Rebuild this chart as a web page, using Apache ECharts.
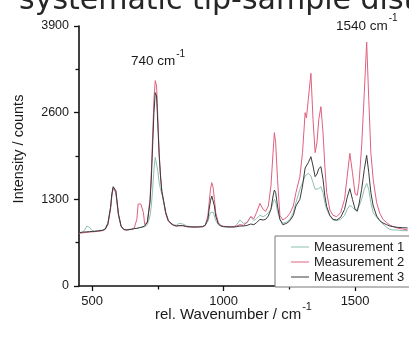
<!DOCTYPE html>
<html>
<head>
<meta charset="utf-8">
<script src="https://cdn.jsdelivr.net/npm/echarts@6/dist/echarts.min.js"></script>
<style>
html,body{margin:0;padding:0;background:#fff;}
#chart{width:409px;height:339px;}
</style>
</head>
<body>
<div id="chart"></div>
<script>
// Wavenumber positions (cm^-1)
var wavenumbers = [
  450,460,470,480,490,500,510,520,530,540,550,560,
  570,575,580,585,590,595,600,
  610,620,630,640,650,660,670,
  675,680,685,690,695,700,
  710,720,725,730,735,740,745,750,755,760,765,770,
  780,790,800,810,820,830,837,845,860,880,900,920,930,
  940,945,950,955,960,965,970,980,990,1000,
  1020,1040,1050,1062,1075,1090,1103,1115,1125,1138,1150,1160,1170,1180,
  1188,1193,1198,1205,1214,1225,1240,1252,1265,1275,
  1290,1300,1310,1315,1322,1332,1340,1348,1355,1362,1370,1378,1385,1392,
  1404,1416,1430,1445,1460,1470,1480,1490,1500,1508,1515,1525,1535,1544,1552,1560,1569,
  1582,1594,1606,1620,1632,1645,1660,1680,1700
];
var measurement1 = [
  800,805,830,900,880,830,825,830,835,840,860,950,
  1180,1380,1480,1500,1420,1250,1080,
  900,850,845,850,855,860,865,
  870,875,880,880,885,890,
  920,1050,1200,1450,1750,1930,1900,1720,1550,1450,1380,1300,
  1100,980,940,920,910,940,965,930,900,890,890,895,910,
  970,1040,1100,1130,1110,1050,980,920,900,890,
  885,890,920,990,940,950,1040,980,1010,1060,1040,1060,1100,1150,
  1250,1300,1260,1120,1000,940,960,1000,1100,1250,
  1450,1550,1650,1670,1690,1650,1550,1450,1440,1460,1490,1400,1250,1150,
  1050,990,980,1000,1060,1150,1210,1180,1140,1150,1200,1300,1450,1540,1450,1250,1100,
  1030,980,930,880,850,840,840,830,830
];
var measurement2 = [
  790,795,800,805,810,812,815,820,825,830,850,920,
  1150,1350,1470,1490,1400,1230,1060,
  890,845,840,845,850,870,1000,
  1230,1250,1230,1250,1100,920,
  960,1300,1700,2250,2800,3080,3000,2500,2000,1650,1420,1300,
  1080,970,930,910,900,905,910,905,890,885,885,890,910,
  1050,1250,1450,1550,1480,1300,1100,950,905,895,
  890,890,900,920,910,960,1040,1010,1100,1240,1150,1120,1200,1500,
  2000,2300,2150,1600,1060,990,1030,1090,1200,1400,
  1640,2000,2600,2520,2800,3190,2500,2000,2150,2500,2690,2300,1800,1400,
  1140,1060,1040,1100,1300,1650,1990,1700,1380,1360,1550,2100,2900,3660,2800,2000,1590,
  1250,1090,1000,950,915,890,870,855,840
];
var measurement3 = [
  800,805,810,812,815,818,820,825,830,835,855,940,
  1180,1380,1490,1510,1430,1260,1080,
  900,850,840,845,850,860,865,
  870,875,880,885,890,900,
  960,1250,1600,2100,2600,2900,2850,2400,1950,1650,1420,1320,
  1100,980,940,910,900,905,910,905,890,885,885,890,910,
  1000,1150,1280,1350,1320,1200,1050,930,900,890,
  885,885,890,900,900,910,930,920,950,1000,990,1000,1050,1150,
  1350,1440,1400,1200,1000,920,940,980,1060,1200,
  1300,1500,1770,1780,1850,1940,1800,1640,1680,1760,1790,1600,1350,1190,
  1060,1000,990,1030,1150,1330,1460,1300,1150,1120,1230,1450,1750,1960,1700,1400,1200,
  1050,980,945,920,900,890,880,875,870
];
var seriesNames = ['Measurement 1','Measurement 2','Measurement 3'];
var xMajorTicks = [500,1000,1500];
var xMinorTicks = [750,1250];
var yTicks = [0,1300,2600,3900];
var titleText = 'systematic tip-sample distance';
var peakLabels = [{main:'740 cm', sup:'-1'}, {main:'1540 cm', sup:'-1'}];
var xAxisTitle = {main:'rel. Wavenumber / cm', sup:'-1'};
var yAxisTitle = 'Intensity / counts';

function zip(xs, ys){ return xs.map(function(x,i){ return [x, ys[i]]; }); }

var FONT = '"Liberation Sans", Arial, sans-serif';
var ctx = document.createElement('canvas').getContext('2d');
function tw(text, size, fam){ ctx.font = size + 'px ' + (fam || FONT); return ctx.measureText(text).width; }

function supText(main, sup, left, baseline, size, supSize, supRise){
  var w = tw(main, size);
  return [
    {type:'text', x:left, y:baseline - 0.35*size, style:{text:main, font: size+'px '+FONT, fill:'#1a1a1a', verticalAlign:'middle', align:'left'}},
    {type:'text', x:left + w + 1, y:baseline - supRise, style:{text:sup, font: supSize+'px '+FONT, fill:'#1a1a1a', verticalAlign:'middle', align:'left'}}
  ];
}

var colors = ['#8fbfb2','#e0607f','#3b3b3b'];
var chart = echarts.init(document.getElementById('chart'), null, {renderer:'canvas'});

var graphics = [
  {type:'text', x:19, y:12 - 0.35*30, style:{text:titleText, font:'30px "DejaVu Sans", sans-serif', fill:'#262626', verticalAlign:'middle', align:'left'}},
  {type:'text', x:19, y:149, rotation:Math.PI/2, style:{text:yAxisTitle, font:'14.5px '+FONT, fill:'#1a1a1a', verticalAlign:'middle', align:'center'}}
];
graphics = graphics
  .concat(supText(peakLabels[0].main, peakLabels[0].sup, 131, 66.5, 13.5, 10, 12))
  .concat(supText(peakLabels[1].main, peakLabels[1].sup, 336, 31, 13.5, 10, 13))
  .concat(supText(xAxisTitle.main, xAxisTitle.sup, 155, 320, 15, 11, 13.5));

var option = {
  animation:false,
  backgroundColor:'#fff',
  textStyle:{fontFamily:FONT},
  color:colors,
  grid:{left:79, right:0, top:26, bottom:53, containLabel:false},
  legend:{
    data:seriesNames, orient:'vertical', left:275, top:236,
    padding:[4,20,3,16], itemGap:1, itemWidth:18, itemHeight:1, icon:'rect',
    borderColor:'#777', borderWidth:1, backgroundColor:'#fff',
    textStyle:{fontSize:13, color:'#1a1a1a', lineHeight:14, fontFamily:FONT}
  },
  xAxis:[{
    type:'value', min:450, max:1705,
    axisLine:{show:true, lineStyle:{color:'#111', width:1.6}},
    axisTick:{show:true, length:5, customValues:xMajorTicks, lineStyle:{color:'#111', width:1.3}},
    axisLabel:{customValues:xMajorTicks, fontSize:13, color:'#1a1a1a', margin:9, fontFamily:FONT,
      formatter:function(v){ return String(v); }},
    splitLine:{show:false}
  },{
    type:'value', min:450, max:1705, position:'bottom',
    axisLine:{show:false},
    axisTick:{show:true, length:3.5, customValues:xMinorTicks, lineStyle:{color:'#111', width:1.3}},
    axisLabel:{show:false},
    splitLine:{show:false}
  }],
  yAxis:{
    type:'value', min:yTicks[0], max:yTicks[yTicks.length-1], interval:1300,
    axisLine:{show:true, lineStyle:{color:'#111', width:1.6}},
    axisTick:{show:true, length:5, lineStyle:{color:'#111', width:1.3}},
    minorTick:{show:true, splitNumber:2, length:3.5, lineStyle:{color:'#111', width:1.3}},
    axisLabel:{fontSize:12.5, color:'#1a1a1a', margin:10, fontFamily:FONT,
      formatter:function(v){ return String(v); }},
    splitLine:{show:false}
  },
  series:[measurement1, measurement2, measurement3].map(function(arr, i){
    return {
      name:seriesNames[i], type:'line', xAxisIndex:0, data:zip(wavenumbers, arr),
      symbol:'none', smooth:false, lineStyle:{width:1, color:colors[i]}, itemStyle:{color:colors[i]}
    };
  }),
  graphic:graphics
};
chart.setOption(option);
</script>
</body>
</html>
